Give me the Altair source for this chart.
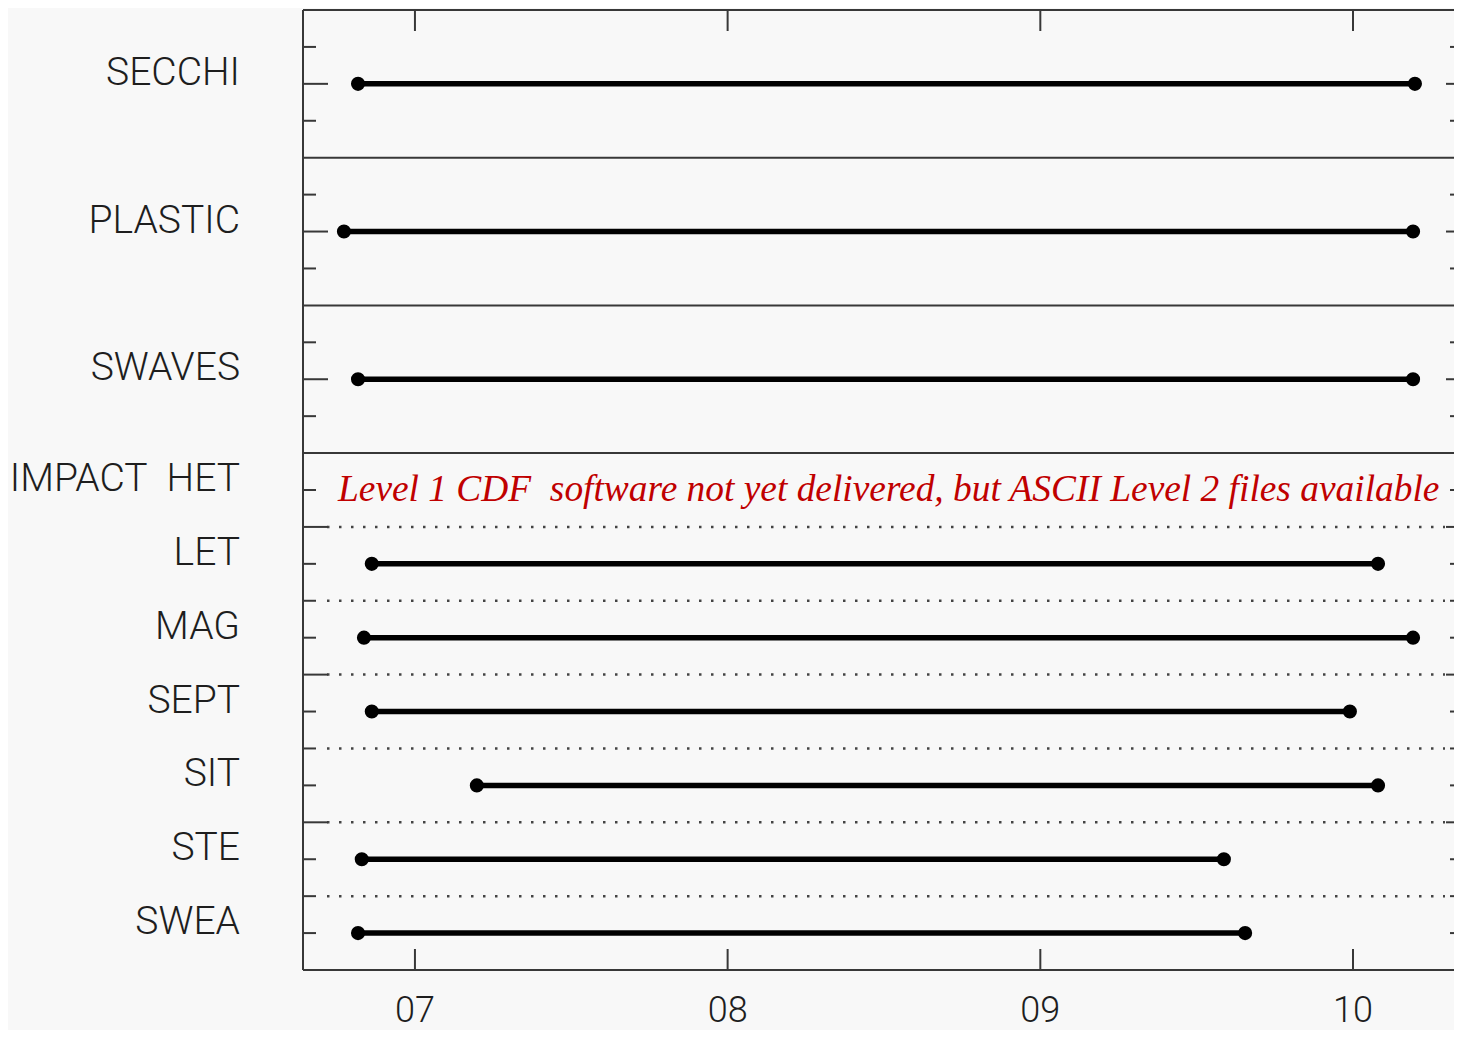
import altair as alt
import pandas as pd

# ---- data ----
instruments = ["SECCHI", "PLASTIC", "SWAVES", "LET", "MAG", "SEPT", "SIT", "STE", "SWEA"]
row_pos = [2, 6, 10, 15, 17, 19, 21, 23, 25]
start_year = [2006.818, 2006.773, 2006.818, 2006.862, 2006.837, 2006.862, 2007.198, 2006.830, 2006.818]
end_year = [2010.198, 2010.192, 2010.192, 2010.080, 2010.192, 2009.990, 2010.080, 2009.587, 2009.655]

label_text = ["SECCHI", "PLASTIC", "SWAVES", "IMPACT\u00a0 HET", "LET", "MAG", "SEPT", "SIT", "STE", "SWEA"]
label_pos = [2, 6, 10, 13, 15, 17, 19, 21, 23, 25]

note_text = ["Level 1 CDF\u00a0 software not yet delivered, but ASCII Level 2 files available"]
note_pos = [13]

panel_sep = [4, 8, 12]
sub_sep = [14, 16, 18, 20, 22, 24]
ytick_major = [2, 6, 10, 14, 18, 22]
ytick_minor = [1, 3, 5, 7, 9, 11, 13, 15, 16, 17, 19, 20, 21, 23, 24, 25]
x_ticks = [2007, 2008, 2009, 2010]
x_tick_labels = ["07", "08", "09", "10"]
x_domain = [2006.642, 2010.323]
y_domain = [0, 26]

# ---- layout ----
W = 1151
H = 960
FRAME = "#383838"

xs = alt.Scale(domain=x_domain, nice=False, zero=False)
ys = alt.Scale(domain=y_domain, reverse=True, nice=False, zero=False)


def X(f):
    return alt.X(f, type="quantitative", scale=xs, axis=None)


def Y(f):
    return alt.Y(f, type="quantitative", scale=ys, axis=None)


bars_df = pd.DataFrame({"inst": instruments, "k": row_pos, "start": start_year, "end": end_year})
pts_df = pd.DataFrame({
    "k": row_pos + row_pos,
    "yr": start_year + end_year,
})
labels_df = pd.DataFrame({"label": label_text, "k": label_pos})
note_df = pd.DataFrame({"note": note_text, "k": note_pos})
sep_df = pd.DataFrame({"k": panel_sep})
dot_df = pd.DataFrame({"k": sub_sep})
maj_df = pd.DataFrame({"k": ytick_major})
min_df = pd.DataFrame({"k": ytick_minor})
xt_df = pd.DataFrame({"year": x_ticks, "lbl": x_tick_labels})
one_df = pd.DataFrame({"k": [0]})

# frame (left, top, bottom; the right side lies beyond the visible page)
frame_l = alt.Chart(one_df).mark_rule(color=FRAME, strokeWidth=2).encode(
    x=alt.value(0), y=alt.value(0), y2=alt.value(H))
frame_t = alt.Chart(one_df).mark_rule(color=FRAME, strokeWidth=2).encode(
    y=alt.value(0), x=alt.value(0), x2=alt.value(W))
frame_b = alt.Chart(one_df).mark_rule(color=FRAME, strokeWidth=2).encode(
    y=alt.value(H), x=alt.value(0), x2=alt.value(W))

sep = alt.Chart(sep_df).mark_rule(color=FRAME, strokeWidth=2).encode(y=Y("k"))
dots = alt.Chart(dot_df).mark_rule(color="#444444", strokeWidth=2.5, strokeDash=[2.5, 9.5]).encode(
    y=Y("k"), x=alt.value(24), x2=alt.value(W - 9))

maj_l = alt.Chart(maj_df).mark_rule(color=FRAME, strokeWidth=2).encode(
    y=Y("k"), x=alt.value(0), x2=alt.value(25))
maj_r = alt.Chart(maj_df).mark_rule(color=FRAME, strokeWidth=2).encode(
    y=Y("k"), x=alt.value(W - 8), x2=alt.value(W))
min_l = alt.Chart(min_df).mark_rule(color=FRAME, strokeWidth=2).encode(
    y=Y("k"), x=alt.value(0), x2=alt.value(13))
min_r = alt.Chart(min_df).mark_rule(color=FRAME, strokeWidth=2).encode(
    y=Y("k"), x=alt.value(W - 4), x2=alt.value(W))

xt_top = alt.Chart(xt_df).mark_rule(color=FRAME, strokeWidth=2).encode(
    x=X("year"), y=alt.value(0), y2=alt.value(21))
xt_bot = alt.Chart(xt_df).mark_rule(color=FRAME, strokeWidth=2).encode(
    x=X("year"), y=alt.value(H - 21), y2=alt.value(H))
xt_lbl = alt.Chart(xt_df).mark_text(
    align="center", baseline="alphabetic", font="Roboto", fontWeight=300, fontSize=36, color="#1e1e1e"
).encode(x=X("year"), y=alt.value(H + 52), text="lbl:N")

bars = alt.Chart(bars_df).mark_rule(color="black", strokeWidth=5.5).encode(
    x=X("start"), x2="end", y=Y("k"))
pts = alt.Chart(pts_df).mark_point(
    shape="circle", filled=True, size=200, color="black", opacity=1
).encode(x=X("yr"), y=Y("k"))

labels = alt.Chart(labels_df).mark_text(
    align="right", baseline="middle", font="Roboto", fontWeight=300, fontSize=39,
    color="#1e1e1e", dy=-11
).encode(y=Y("k"), x=alt.value(-63), text="label:N")

note = alt.Chart(note_df).mark_text(
    align="left", baseline="middle", font="Liberation Serif", fontStyle="italic",
    fontSize=37.4, color="#c00000"
).encode(y=Y("k"), x=alt.value(35), text="note:N")

chart = alt.layer(
    frame_l, frame_t, frame_b, sep, dots, maj_l, maj_r, min_l, min_r, xt_top, xt_bot,
    bars, pts, labels, note, xt_lbl
).properties(
    width=W, height=H,
    autosize=alt.AutoSizeParams(type="none"),
    padding={"left": 295, "top": 2, "right": 0, "bottom": 60},
    background="#f8f8f8",
).configure_view(stroke="transparent")

chart.save("out.html", embed_options={"renderer": "svg", "actions": False})
